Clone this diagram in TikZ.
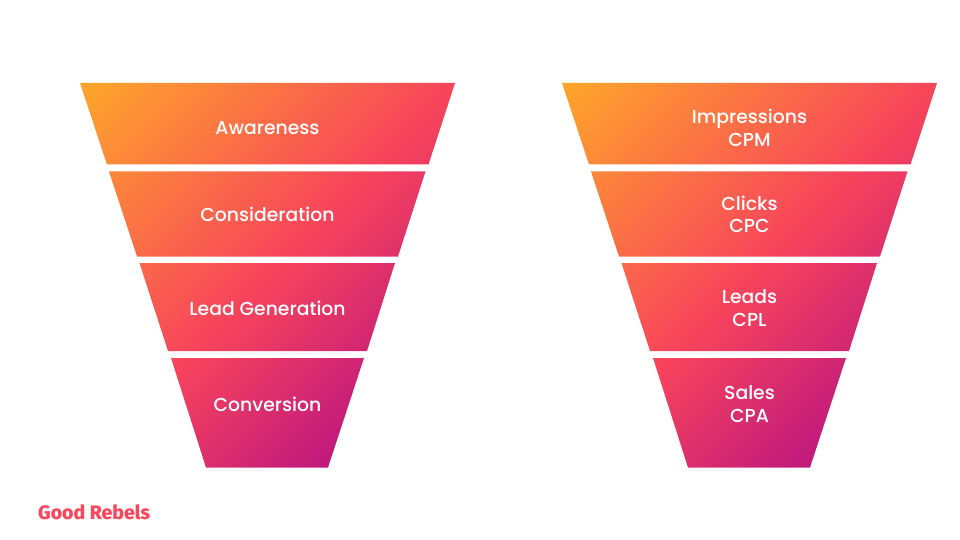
\documentclass[tikz,border=0pt]{standalone}
\usepackage{xcolor}
\usepackage{fontspec}
\setmainfont{Poppins Medium}
\newfontfamily\logofont{Fira Sans ExtraBold}
\usetikzlibrary{shadings}

\definecolor{funnelorange}{HTML}{FFA52B}
\definecolor{funnelred}{HTML}{F7445B}
\definecolor{funnelmagenta}{HTML}{BC1680}
\definecolor{logored}{HTML}{F8485E}
\pgfdeclarehorizontalshading{funnelgrad}{100bp}{
  color(0bp)=(funnelorange); color(15bp)=(funnelorange);
  color(50bp)=(funnelred);
  color(75bp)=(funnelmagenta); color(100bp)=(funnelmagenta)}
\tikzset{
  funnel/.style={shading=funnelgrad, shading angle=-45},
  label/.style={text=white, align=center, font=\fontsize{18.8}{22.5}\selectfont},
  logo/.style={text=logored, anchor=west, font=\logofont\fontsize{19.5}{22}\selectfont}
}

\begin{document}
\begin{tikzpicture}[x=1pt,y=-1pt]
    \useasboundingbox (0,0) rectangle (960,540);
    % Funnels
    \foreach \offset in {0,482} {
        \shade[funnel, xshift=\offset pt]
            (80,83) -- (455,83) -- (428.5,164.5) -- (107,164.5) -- cycle
            (109,171.5) -- (425.5,171.5) -- (398,256.5) -- (137,256.5) -- cycle
            (139.5,263) -- (395,263) -- (367,351) -- (168,351) -- cycle
            (171,358) -- (364,358) -- (328,467.5) -- (206,467.5) -- cycle;
    }
    % Left labels
    \node[label] (awareness) at (267.5,128) {Awareness};
    \node[label] (consideration) at (267.5,214.5) {Consideration};
    \node[label] (leadgen) at (267.5,308) {Lead Generation};
    \node[label] (conversion) at (267.5,404) {Conversion};
    % Right labels
    \node[label] (impressions) at (749.5,128) {Impressions\\CPM};
    \node[label] (clicks) at (749.5,214.5) {Clicks\\CPC};
    \node[label] (leads) at (749.5,308) {Leads\\CPL};
    \node[label] (sales) at (749.5,404) {Sales\\CPA};
    % Logo
    \node[logo, inner sep=0pt] (goodrebels) at (38,512) {Good Rebels};
\end{tikzpicture}
\end{document}
